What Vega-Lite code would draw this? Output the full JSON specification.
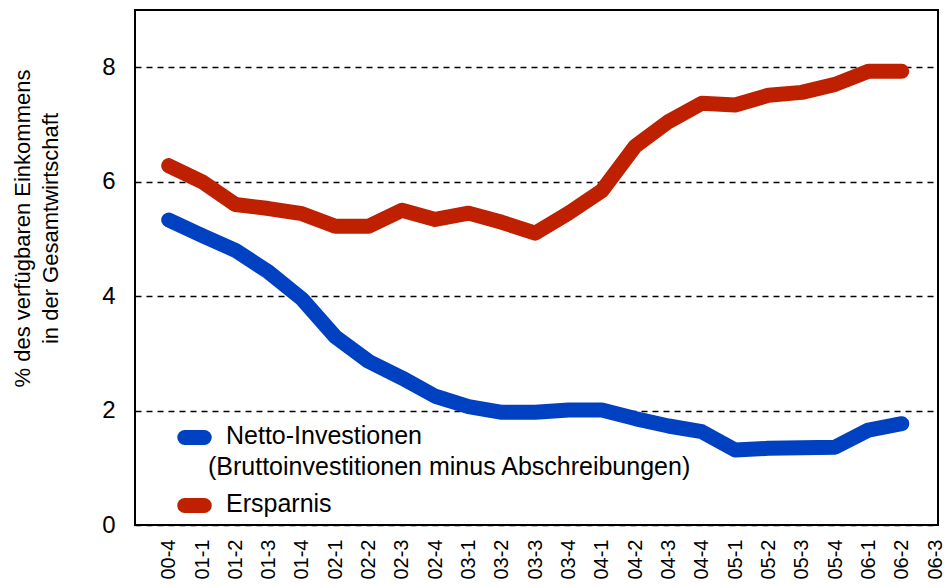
{
  "$schema": "https://vega.github.io/schema/vega-lite/v6.json",
  "autosize": "none",
  "width": 803,
  "height": 515,
  "padding": {"left": 135, "top": 10, "right": 13, "bottom": 63},
  "background": "white",
  "config": {
    "font": "Liberation Sans",
    "view": {"stroke": "black", "strokeWidth": 2}
  },
  "data": {
    "values": [
      {"q": "00-4", "series": "Netto-Investionen", "value": 5.33},
      {"q": "01-1", "series": "Netto-Investionen", "value": 5.06},
      {"q": "01-2", "series": "Netto-Investionen", "value": 4.8},
      {"q": "01-3", "series": "Netto-Investionen", "value": 4.42},
      {"q": "01-4", "series": "Netto-Investionen", "value": 3.95},
      {"q": "02-1", "series": "Netto-Investionen", "value": 3.29},
      {"q": "02-2", "series": "Netto-Investionen", "value": 2.86},
      {"q": "02-3", "series": "Netto-Investionen", "value": 2.57},
      {"q": "02-4", "series": "Netto-Investionen", "value": 2.25},
      {"q": "03-1", "series": "Netto-Investionen", "value": 2.07},
      {"q": "03-2", "series": "Netto-Investionen", "value": 1.97},
      {"q": "03-3", "series": "Netto-Investionen", "value": 1.97},
      {"q": "03-4", "series": "Netto-Investionen", "value": 2.01},
      {"q": "04-1", "series": "Netto-Investionen", "value": 2.01},
      {"q": "04-2", "series": "Netto-Investionen", "value": 1.86},
      {"q": "04-3", "series": "Netto-Investionen", "value": 1.73},
      {"q": "04-4", "series": "Netto-Investionen", "value": 1.63},
      {"q": "05-1", "series": "Netto-Investionen", "value": 1.31},
      {"q": "05-2", "series": "Netto-Investionen", "value": 1.34},
      {"q": "05-3", "series": "Netto-Investionen", "value": 1.35},
      {"q": "05-4", "series": "Netto-Investionen", "value": 1.36},
      {"q": "06-1", "series": "Netto-Investionen", "value": 1.66},
      {"q": "06-2", "series": "Netto-Investionen", "value": 1.77},
      {"q": "00-4", "series": "Ersparnis", "value": 6.28},
      {"q": "01-1", "series": "Ersparnis", "value": 6.0},
      {"q": "01-2", "series": "Ersparnis", "value": 5.6},
      {"q": "01-3", "series": "Ersparnis", "value": 5.53},
      {"q": "01-4", "series": "Ersparnis", "value": 5.44},
      {"q": "02-1", "series": "Ersparnis", "value": 5.22},
      {"q": "02-2", "series": "Ersparnis", "value": 5.22},
      {"q": "02-3", "series": "Ersparnis", "value": 5.5},
      {"q": "02-4", "series": "Ersparnis", "value": 5.34},
      {"q": "03-1", "series": "Ersparnis", "value": 5.45},
      {"q": "03-2", "series": "Ersparnis", "value": 5.29},
      {"q": "03-3", "series": "Ersparnis", "value": 5.1},
      {"q": "03-4", "series": "Ersparnis", "value": 5.45},
      {"q": "04-1", "series": "Ersparnis", "value": 5.84},
      {"q": "04-2", "series": "Ersparnis", "value": 6.62},
      {"q": "04-3", "series": "Ersparnis", "value": 7.05},
      {"q": "04-4", "series": "Ersparnis", "value": 7.37},
      {"q": "05-1", "series": "Ersparnis", "value": 7.34},
      {"q": "05-2", "series": "Ersparnis", "value": 7.51},
      {"q": "05-3", "series": "Ersparnis", "value": 7.56},
      {"q": "05-4", "series": "Ersparnis", "value": 7.7},
      {"q": "06-1", "series": "Ersparnis", "value": 7.93},
      {"q": "06-2", "series": "Ersparnis", "value": 7.93}
    ]
  },
  "mark": {"type": "line", "strokeWidth": 15, "strokeCap": "round", "strokeJoin": "round"},
  "encoding": {
    "x": {
      "field": "q",
      "type": "ordinal",
      "scale": {
        "type": "point",
        "domain": ["00-4","01-1","01-2","01-3","01-4","02-1","02-2","02-3","02-4","03-1","03-2","03-3","03-4","04-1","04-2","04-3","04-4","05-1","05-2","05-3","05-4","06-1","06-2","06-3"],
        "padding": 0.55,
        "align": 0.92
      },
      "axis": {
        "title": null,
        "labelAngle": -90,
        "labelFontSize": 20,
        "labelColor": "black",
        "labelPadding": 14,
        "ticks": false,
        "domain": false,
        "grid": false
      }
    },
    "y": {
      "field": "value",
      "type": "quantitative",
      "scale": {"domain": [0, 9], "nice": false},
      "axis": {
        "values": [0, 2, 4, 6, 8],
        "title": ["% des verfügbaren Einkommens", "in der Gesamtwirtschaft"],
        "titleFontSize": 22,
        "titleFontWeight": "normal",
        "titleColor": "black",
        "titleLineHeight": 28,
        "titleX": -101,
        "titleY": 218,
        "labelFontSize": 24,
        "labelColor": "black",
        "labelPadding": 20,
        "ticks": false,
        "domain": false,
        "grid": true,
        "gridColor": "black",
        "gridDash": [6, 5],
        "gridWidth": 1.5
      }
    },
    "color": {
      "field": "series",
      "type": "nominal",
      "scale": {"domain": ["Netto-Investionen", "Ersparnis"], "range": ["#0041C1", "#BE2000"]},
      "legend": {
        "title": null,
        "orient": "none",
        "legendX": 42,
        "legendY": 410,
        "symbolType": "stroke",
        "symbolStrokeWidth": 15,
        "symbolSize": 380,
        "labelFontSize": 25,
        "labelColor": "black",
        "labelLimit": 700,
        "labelOffset": -4,
        "labelBaseline": "top",
        "rowPadding": -5,
        "labelExpr": "datum.label == 'Netto-Investionen' ? ['\u2800Netto-Investionen', '(Bruttoinvestitionen minus Abschreibungen)'] : '\u2800' + datum.label",
        "encode": {
          "symbols": {"update": {"strokeCap": {"value": "round"}}},
          "labels": {"update": {"lineHeight": {"value": 31}, "dy": {"value": -14}}}
        }
      }
    }
  }
}
